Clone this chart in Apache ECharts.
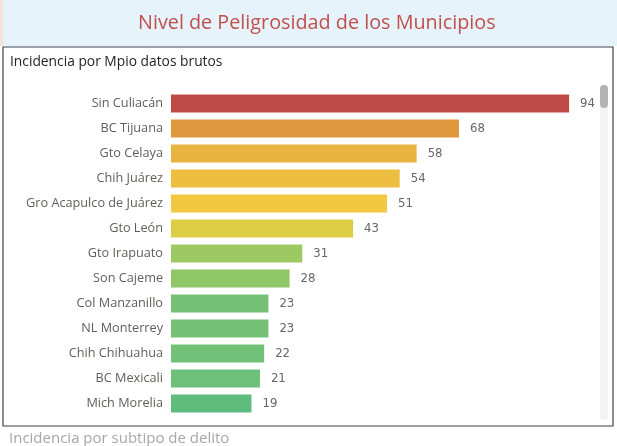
<!DOCTYPE html>
<html>
<head>
<meta charset="utf-8">
<script src="https://cdn.jsdelivr.net/npm/echarts@6/dist/echarts.min.js"></script>
<style>
html,body{margin:0;padding:0;background:#fff;}
#c{width:617px;height:446px;}
</style>
</head>
<body>
<div id="c"></div>
<script>
const categories = ["Sin Culiacán","BC Tijuana","Gto Celaya","Chih Juárez","Gro Acapulco de Juárez","Gto León","Gto Irapuato","Son Cajeme","Col Manzanillo","NL Monterrey","Chih Chihuahua","BC Mexicali","Mich Morelia"];
const values = [94,68,58,54,51,43,31,28,23,23,22,21,19];
const barColors = ["#bf4b48","#e0983f","#e8b440","#edbe3f","#f1c83f","#dccd45","#9dc963","#8fc666","#75c276","#75c276","#71c178","#6cc07a","#5ebd7c"];

const chart = echarts.init(document.getElementById('c'), null, {renderer:'canvas'});
chart.setOption({
  animation:false,
  textStyle:{fontFamily:'"Open Sans", sans-serif'},
  graphic:[
    {type:'rect', shape:{x:0,y:0,width:617,height:46}, style:{fill:'#e6f3fa'}, z:-10},
    {type:'rect', shape:{x:0,y:0,width:3,height:46}, style:{fill:'#f6e3d8'}, z:-9},
    {type:'rect', shape:{x:3,y:47,width:610,height:379}, style:{fill:'#fff',stroke:'#3c4150',lineWidth:1.2}, z:-8},
    {type:'rect', shape:{x:600,y:85,width:8,height:335,r:4}, style:{fill:'#f3f3f3'}, z:-7},
    {type:'rect', shape:{x:600,y:85,width:8,height:23,r:4}, style:{fill:'#b3b3b3'}, z:-6}
  ],
  title:[
    {text:'Nivel de Peligrosidad de los Municipios', left:133, top:8,
     textStyle:{color:'#c0504d', fontSize:19.8, fontWeight:'normal', fontFamily:'"Open Sans", sans-serif'}},
    {text:'Incidencia por Mpio datos brutos', left:5, top:50,
     textStyle:{color:'#252423', fontSize:13.8, fontWeight:'normal'}},
    {text:'Incidencia por subtipo de delito', left:4, top:426,
     textStyle:{color:'#a6a6a6', fontSize:15, fontWeight:'normal'}}
  ],
  grid:{left:171, top:91, width:423.5, height:325, containLabel:false},
  xAxis:{type:'value', min:0, max:100, show:false},
  yAxis:{type:'category', data:categories, inverse:true,
    axisLine:{show:false}, axisTick:{show:false}, splitLine:{show:false},
    axisLabel:{color:'#605e5c', fontSize:12.7, margin:8}},
  series:[{
    type:'bar', barWidth:18,
    data: values.map((v,i)=>({value:v, itemStyle:{color:barColors[i]}})),
    label:{show:true, position:'right', distance:11, color:'#666666', fontSize:13,
      fontFamily:'"DejaVu Sans Condensed", "Roboto", sans-serif'}
  }]
});
</script>
</body>
</html>
